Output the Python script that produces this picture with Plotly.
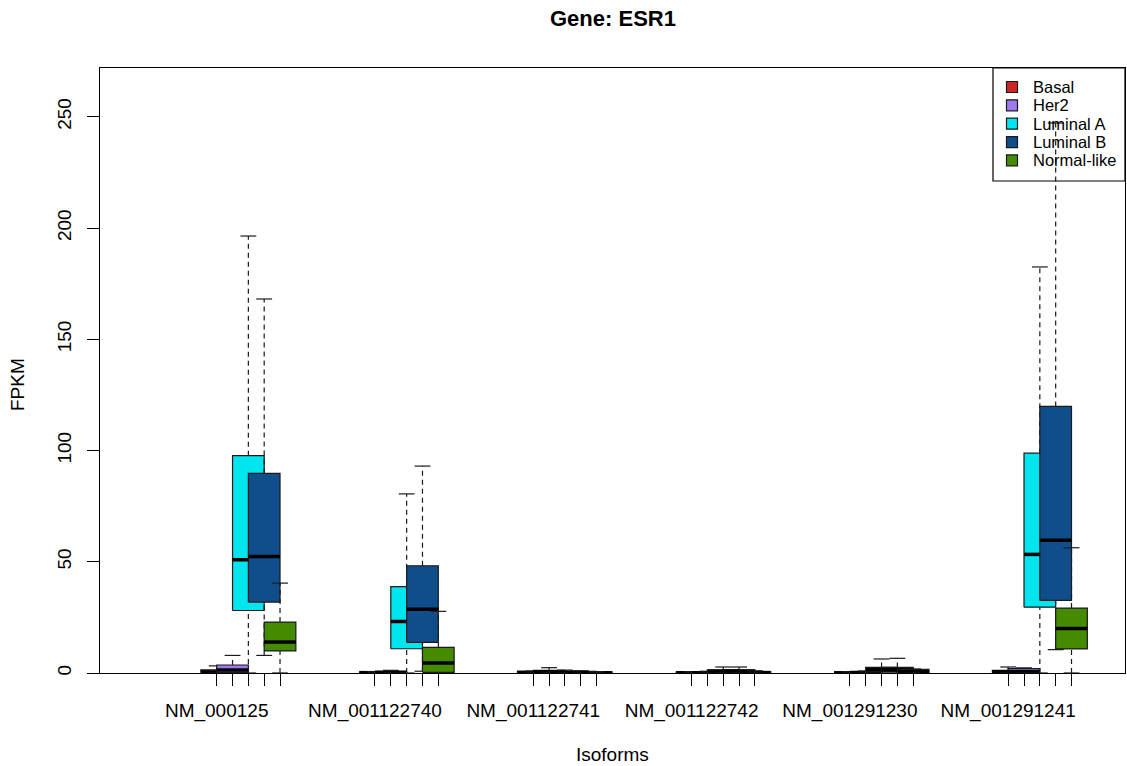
import plotly.graph_objects as go

# Isoforms of ESR1 and PAM50 subtypes
isoforms = ["NM_000125", "NM_001122740", "NM_001122741",
            "NM_001122742", "NM_001291230", "NM_001291241"]
subtypes = ["Basal", "Her2", "Luminal A", "Luminal B", "Normal-like"]
colors = ["#CD2626", "#9F79EE", "#00E5EE", "#104E8B", "#458B00"]

# Box statistics (FPKM), rows = isoforms, columns = subtypes
whisker_low = [
    [0.0, 0.0, 0.0, 7.9, 0.0],
    [0.0, 0.0, 0.0, 0.8, 0.0],
    [0.0, 0.0, 0.0, 0.0, 0.0],
    [0.0, 0.0, 0.0, 0.0, 0.0],
    [0.0, 0.0, 0.0, 0.0, 0.0],
    [0.0, 0.0, 0.0, 10.5, 0.0],
]
q1 = [
    [0.1, 0.3, 28.1, 31.9, 9.9],
    [0.05, 0.1, 10.9, 13.8, 0.3],
    [0.05, 0.2, 0.1, 0.1, 0.05],
    [0.05, 0.05, 0.3, 0.3, 0.05],
    [0.05, 0.05, 0.6, 0.6, 0.2],
    [0.2, 0.2, 29.6, 32.6, 10.8],
]
median = [
    [0.5, 1.4, 50.9, 52.4, 13.9],
    [0.15, 0.3, 23.2, 28.6, 4.5],
    [0.15, 0.5, 0.3, 0.2, 0.15],
    [0.1, 0.15, 0.8, 0.8, 0.2],
    [0.1, 0.2, 1.6, 1.5, 0.6],
    [0.6, 0.6, 53.3, 59.7, 20.0],
]
q3 = [
    [1.4, 3.6, 97.7, 89.7, 22.9],
    [0.3, 0.6, 38.8, 48.2, 11.5],
    [0.8, 1.2, 0.6, 0.5, 0.3],
    [0.3, 0.4, 1.4, 1.4, 0.5],
    [0.3, 0.4, 2.5, 2.5, 1.6],
    [1.2, 2.0, 98.8, 119.8, 29.2],
]
whisker_high = [
    [3.2, 7.9, 196.4, 168.1, 40.4],
    [0.6, 1.2, 80.5, 93.0, 27.7],
    [0.9, 2.4, 1.3, 1.0, 0.6],
    [0.6, 0.8, 2.7, 2.7, 1.0],
    [0.6, 0.9, 6.3, 6.6, 1.8],
    [2.7, 2.3, 182.5, 247.2, 56.3],
]
y_ticks = [0, 50, 100, 150, 200, 250]

FONT = "Liberation Sans, Arial, Helvetica, sans-serif"
BORDER = "#1a1a1a"
GROUP_STEP = 10      # slots between consecutive isoforms
HALF_BOX = 1.0       # half box width in slot units
HALF_STAPLE = 0.5    # half whisker-cap width

fig = go.Figure()

positions, labels = [], []
for g, iso in enumerate(isoforms):
    for s, sub in enumerate(subtypes):
        p = 1 + GROUP_STEP * g + s
        positions.append(p)
        labels.append(iso if s == 0 else "")
        lo, a, m, b, hi = (whisker_low[g][s], q1[g][s], median[g][s],
                           q3[g][s], whisker_high[g][s])
        # box
        fig.add_trace(go.Scatter(
            x=[p - HALF_BOX, p + HALF_BOX, p + HALF_BOX, p - HALF_BOX, p - HALF_BOX],
            y=[a, a, b, b, a], mode="lines", fill="toself",
            fillcolor=colors[s], line=dict(color=BORDER, width=1.2),
            showlegend=False, hoverinfo="skip"))
        # median
        fig.add_trace(go.Scatter(
            x=[p - HALF_BOX, p + HALF_BOX], y=[m, m], mode="lines",
            line=dict(color="black", width=3.5),
            showlegend=False, hoverinfo="skip"))
        # whiskers
        fig.add_trace(go.Scatter(
            x=[p, p, None, p, p], y=[lo, a, None, b, hi], mode="lines",
            line=dict(color=BORDER, width=1.2, dash="5px,4px"),
            showlegend=False, hoverinfo="skip"))
        # staples
        fig.add_trace(go.Scatter(
            x=[p - HALF_STAPLE, p + HALF_STAPLE, None, p - HALF_STAPLE, p + HALF_STAPLE],
            y=[lo, lo, None, hi, hi], mode="lines",
            line=dict(color=BORDER, width=1.2),
            showlegend=False, hoverinfo="skip"))

# plot area in pixels
W, H = 1127, 766
L, R, T, B = 100, 1125, 68, 673


def px_x(x):
    return (x - L) / (R - L)


def px_y(y):
    return (B - y) / (B - T)


x_first = positions[0]
x_last = positions[-1]
slot_px = 15.83
x_range = [x_first - (216.7 - L) / slot_px, x_last + (R - 1071.5) / slot_px]
y_top = max(max(r) for r in whisker_high) * 1.1

axis_common = dict(showline=True, mirror=True, linecolor="black", linewidth=1.2,
                   ticks="outside", ticklen=12, tickwidth=1.2, tickcolor="black",
                   showgrid=False, zeroline=False,
                   tickfont=dict(family=FONT, size=19, color="black"))

fig.update_layout(
    width=W, height=H,
    margin=dict(l=L, r=W - R, t=T, b=H - B),
    paper_bgcolor="white", plot_bgcolor="white",
    showlegend=False,
    xaxis=dict(range=x_range, tickmode="array", tickvals=positions,
               ticktext=labels, tickangle=0, ticklabelstandoff=8, **axis_common),
    yaxis=dict(range=[0, y_top], tickmode="array", tickvals=y_ticks,
               ticktext=[str(v) for v in y_ticks], tickangle=-90,
               ticklabelstandoff=8, **axis_common),
)

# title and axis titles
fig.add_annotation(text="<b>Gene: ESR1</b>", xref="paper", yref="paper",
                   x=0.5, y=px_y(18), xanchor="center", yanchor="middle",
                   showarrow=False, font=dict(family=FONT, size=22, color="black"))
fig.add_annotation(text="Isoforms", xref="paper", yref="paper",
                   x=0.5, y=px_y(755), xanchor="center", yanchor="middle",
                   showarrow=False, font=dict(family=FONT, size=19, color="black"))
fig.add_annotation(text="FPKM", xref="paper", yref="paper",
                   x=px_x(18), y=px_y(385), xanchor="center", yanchor="middle",
                   textangle=-90, showarrow=False,
                   font=dict(family=FONT, size=19, color="black"))

# legend box
fig.add_shape(type="rect", xref="paper", yref="paper",
              x0=px_x(993), x1=px_x(R), y0=px_y(181), y1=px_y(T),
              line=dict(color="black", width=1.2), fillcolor="rgba(0,0,0,0)")
row_y0, row_step, sq = 87.0, 18.35, 5.5
for i, (sub, col) in enumerate(zip(subtypes, colors)):
    cy = row_y0 + i * row_step
    fig.add_shape(type="rect", xref="paper", yref="paper",
                  x0=px_x(1012 - sq), x1=px_x(1012 + sq),
                  y0=px_y(cy + sq), y1=px_y(cy - sq),
                  line=dict(color=BORDER, width=1.2), fillcolor=col)
    fig.add_annotation(text=sub, xref="paper", yref="paper",
                       x=px_x(1031), y=px_y(cy), xanchor="left", yanchor="middle",
                       showarrow=False,
                       font=dict(family=FONT, size=16.5, color="black"))

fig.write_html("out.html")
